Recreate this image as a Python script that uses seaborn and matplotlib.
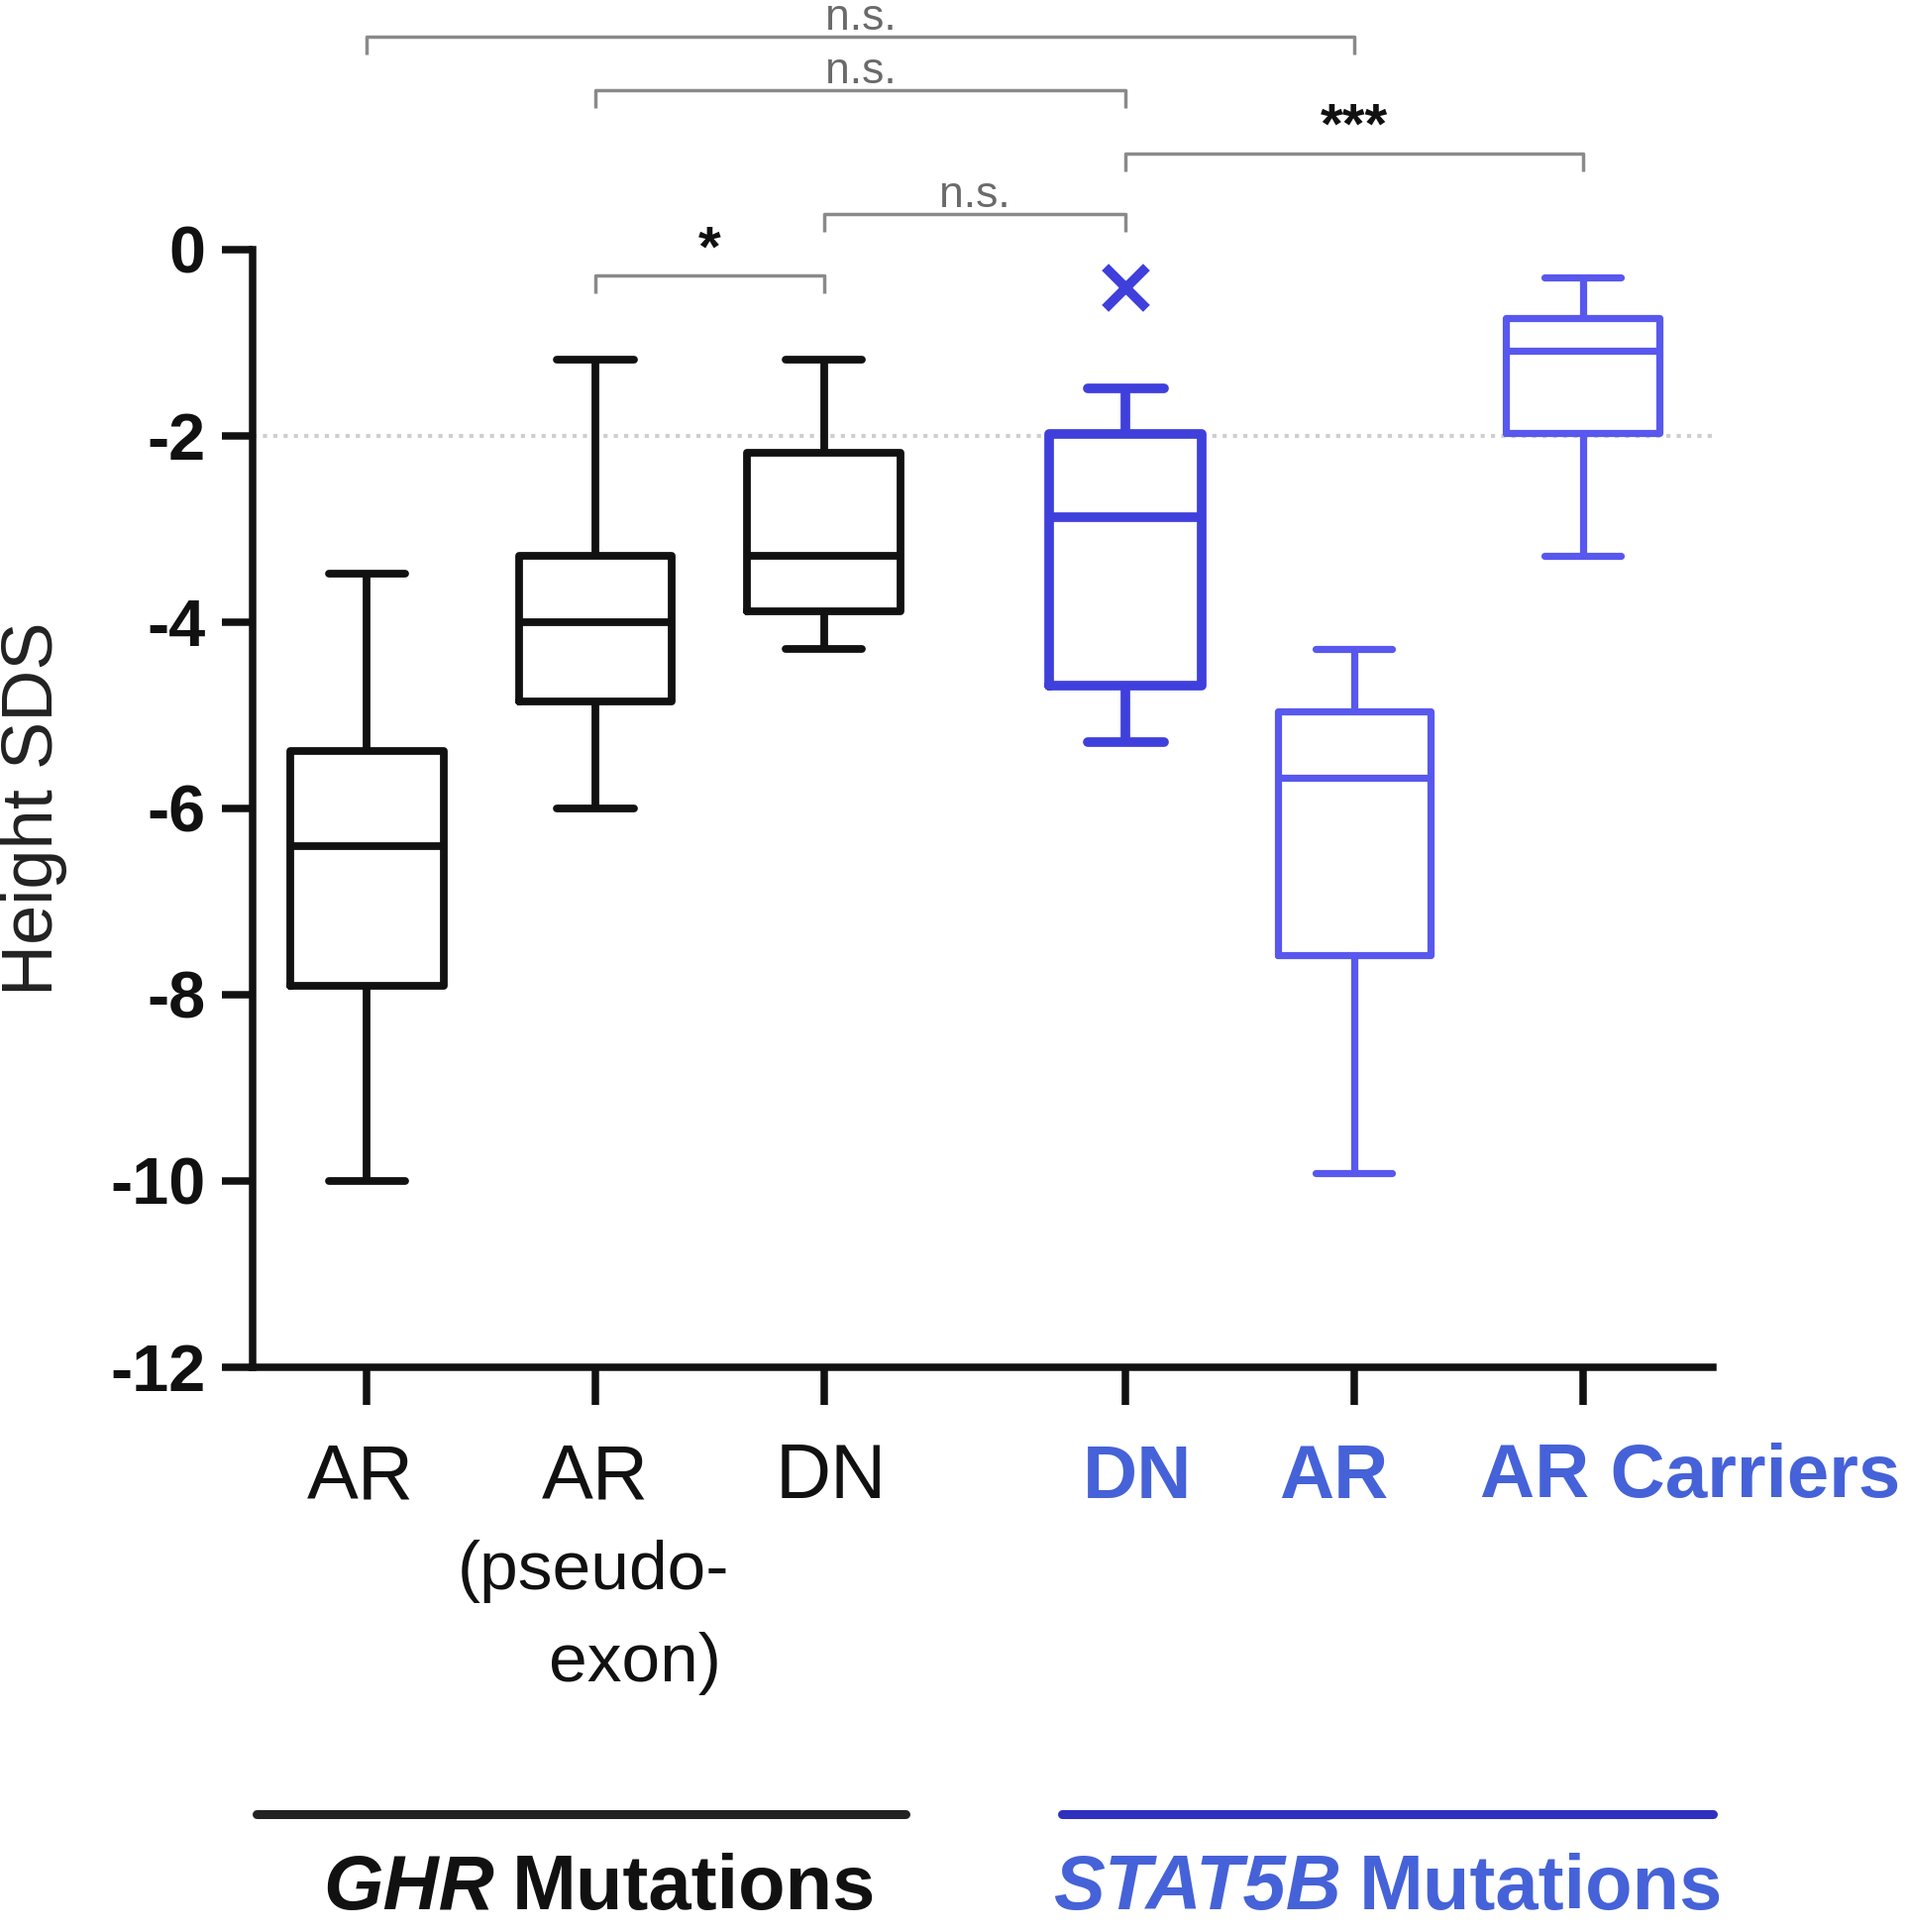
import numpy as np
import pandas as pd
import seaborn as sns
import matplotlib
matplotlib.use("Agg")
import matplotlib.pyplot as plt
from matplotlib.lines import Line2D
from matplotlib.transforms import blended_transform_factory

# ---------------- data (five-number summaries) ----------------
positions = [0.0, 1.0, 2.0, 3.32, 4.32, 5.32]
ghr_ar = [-10.0, -7.9, -6.4, -5.38, -3.48]
ghr_ar_pseudo = [-6.0, -4.85, -4.0, -3.29, -1.18]
ghr_dn = [-4.29, -3.88, -3.29, -2.18, -1.18]
stat_dn = [-5.29, -4.68, -2.87, -1.98, -1.49]
stat_ar = [-9.91, -7.57, -5.67, -4.96, -4.29]
stat_carriers = [-3.29, -1.97, -1.08, -0.73, -0.30]
stat_dn_outlier = [-0.40]

ghr_labels = ["AR", "AR", "DN"]
stat_labels = ["DN", "AR", "AR Carriers"]
y_ticks = [0, -2, -4, -6, -8, -10, -12]

# significance brackets: (x1 index, x2 index, height, text)
brackets = [
    (0, 4, 2.29, "n.s."),
    (1, 3, 1.71, "n.s."),
    (3, 5, 1.03, "***"),
    (2, 3, 0.38, "n.s."),
    (1, 2, -0.28, "*"),
]

BLACK = "#111111"
BLUE_DN = "#3f3fdc"
BLUE_AR = "#5858ee"
BLUE_TXT = "#4562d8"

groups = [ghr_ar, ghr_ar_pseudo, ghr_dn, stat_dn, stat_ar, stat_carriers]
rows = []
for p, vals in zip(positions, groups):
    for v in vals:
        rows.append({"pos": p, "val": v})
df = pd.DataFrame(rows)

sns.set_style("ticks")
plt.rcParams["font.family"] = ["Liberation Sans", "DejaVu Sans"]

W, H = 1929, 1950
fig = plt.figure(figsize=(W / 100, H / 100), dpi=100)
ax = fig.add_axes([255 / W, 1 - 1380 / H, (1729 - 255) / W, (1380 - 252) / H])

def fx(px):
    return px / W

def fy(py):
    return 1 - py / H

common = dict(x="pos", y="val", native_scale=True, orient="x", fill=False,
              whis=(0, 100), width=0.67, ax=ax)
sns.boxplot(data=df[df.pos.isin(positions[:3])], color=BLACK, linewidth=5.6, **common)
sns.boxplot(data=df[df.pos == positions[3]], color=BLUE_DN, linewidth=7.0, **common)
sns.boxplot(data=df[df.pos.isin(positions[4:])], color=BLUE_AR, linewidth=5.2, **common)

out_df = pd.DataFrame({"pos": [positions[3]] * len(stat_dn_outlier), "val": stat_dn_outlier})
sns.scatterplot(data=out_df, x="pos", y="val", marker="x", s=900, color=BLUE_DN,
                linewidth=7, ax=ax, zorder=5, legend=False)

ax.axhline(-2, ls=(0, (1, 1.5)), color="#cfcfcf", lw=3, zorder=0)

ax.set_xlim(-0.5, 5.89)
ax.set_ylim(-12, 0)
ax.set_yticks(y_ticks)
ax.set_yticklabels([str(t) for t in y_ticks], fontweight="bold", fontsize=48)
ax.set_xticks(positions)
ax.set_xticklabels([""] * len(positions))
ax.set_xlabel("")
ax.set_ylabel("Height SDS", fontsize=52, color="#222222")
ax.yaxis.set_label_coords(-0.127, 0.5)
for s in ["top", "right"]:
    ax.spines[s].set_visible(False)
for s in ["left", "bottom"]:
    ax.spines[s].set_linewidth(5.4)
    ax.spines[s].set_color(BLACK)
ax.tick_params(axis="y", length=22, width=5.4, pad=12, colors=BLACK)
ax.tick_params(axis="x", length=27, width=5.4, colors=BLACK)

# significance brackets
for i1, i2, h, txt in brackets:
    x1, x2 = positions[i1], positions[i2]
    ax.plot([x1, x1, x2, x2], [h - 0.19, h, h, h - 0.19], color="#8a8a8a", lw=2.5,
            clip_on=False, solid_capstyle="butt")
    if txt == "n.s.":
        ax.text((x1 + x2) / 2, h - 0.02, txt, ha="center", va="bottom", fontsize=32,
                color="#6a6a6a", clip_on=False)
    else:
        ax.text((x1 + x2) / 2, h - 0.02, txt, ha="center", va="bottom", fontsize=42,
                color=BLACK, fontweight="bold", clip_on=False)

# category labels
tr = blended_transform_factory(ax.transData, fig.transFigure)
ghr_label_x = [-0.03, 1.0, 2.03]
stat_label_x = [3.37, 4.23, 5.79]
for x, lab in zip(ghr_label_x, ghr_labels):
    ax.text(x, fy(1492), lab, transform=tr, ha="center", va="center", fontsize=56,
            color=BLACK, clip_on=False)
for x, lab in zip(stat_label_x, stat_labels):
    ax.text(x, fy(1492), lab, transform=tr, ha="center", va="center", fontsize=55,
            color=BLUE_TXT, fontweight="bold", clip_on=False)
ax.text(0.99, fy(1586), "(pseudo-", transform=tr, ha="center", va="center", fontsize=50,
        color=BLACK, clip_on=False)
ax.text(1.175, fy(1679), "exon)", transform=tr, ha="center", va="center", fontsize=50,
        color=BLACK, clip_on=False)

# group lines
fig.add_artist(Line2D([fx(259), fx(914)], [fy(1831), fy(1831)], color="#222222", lw=6.5,
                      transform=fig.transFigure))
fig.add_artist(Line2D([fx(1072), fx(1729)], [fy(1831), fy(1831)], color="#2f2fc0", lw=6.5,
                      transform=fig.transFigure))

# group labels (italic gene + bold word)
fig.canvas.draw()
renderer = fig.canvas.get_renderer()

def group_label(x_left, gene, color):
    t1 = fig.text(fx(x_left), fy(1906), gene, ha="left", va="center", fontsize=56,
                  fontweight="bold", fontstyle="italic", color=color)
    bb = t1.get_window_extent(renderer=renderer)
    x2 = bb.x1 + 18
    fig.text(x2 / W, fy(1906), "Mutations", ha="left", va="center", fontsize=56,
             fontweight="bold", color=color)

group_label(326, "GHR", BLACK)
group_label(1063, "STAT5B", BLUE_TXT)

fig.savefig("out.png", dpi=100)
